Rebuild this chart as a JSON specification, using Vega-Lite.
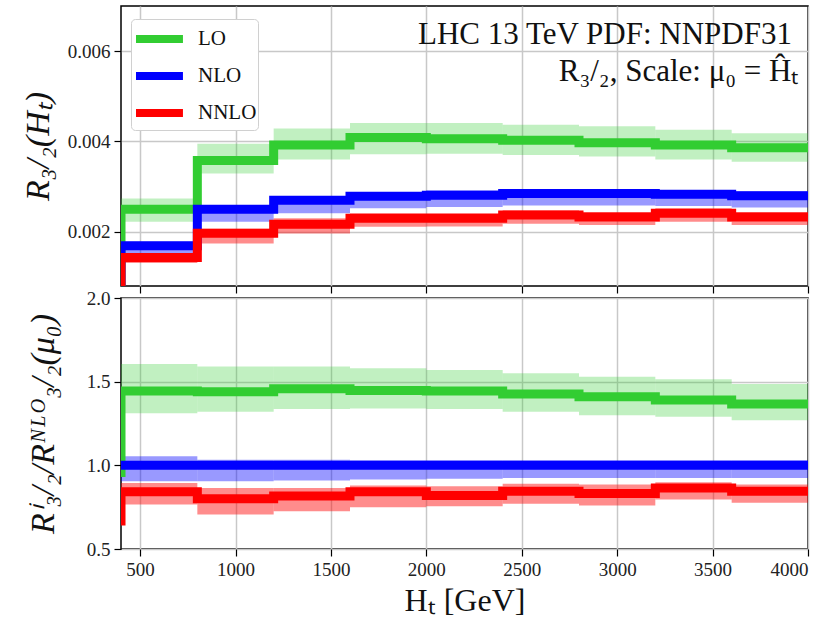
{
  "$schema": "https://vega.github.io/schema/vega-lite/v6.json",
  "padding": {"left": 20, "top": 5, "right": 20, "bottom": 5},
  "config": {
    "font": "Liberation Serif",
    "view": {"stroke": "#000", "strokeWidth": 1.5},
    "axis": {
      "domain": false, "grid": true, "gridColor": "#c8c8c8", "gridWidth": 1.5,
      "tickColor": "#000", "tickSize": 7, "tickWidth": 1.2,
      "labelFont": "Liberation Serif", "labelFontSize": 19, "labelColor": "#222", "labelPadding": 4,
      "titleFont": "Liberation Serif", "titleFontWeight": "normal", "titleFontSize": 28, "titleColor": "#111"
    },
    "concat": {"spacing": -7}
  },
  "datasets": {
    "top": [
      {"s": "LO", "x0": 400, "x1": 400, "v": 0.0005},
      {"s": "LO", "x0": 400, "x1": 800, "v": 0.0025, "lo": 0.00222, "hi": 0.00274},
      {"s": "LO", "x0": 800, "x1": 1200, "v": 0.00358, "lo": 0.00329, "hi": 0.00395},
      {"s": "LO", "x0": 1200, "x1": 1600, "v": 0.00392, "lo": 0.0036, "hi": 0.00429},
      {"s": "LO", "x0": 1600, "x1": 2000, "v": 0.00409, "lo": 0.00372, "hi": 0.00441},
      {"s": "LO", "x0": 2000, "x1": 2400, "v": 0.00406, "lo": 0.00373, "hi": 0.00441},
      {"s": "LO", "x0": 2400, "x1": 2800, "v": 0.00403, "lo": 0.0037, "hi": 0.00437},
      {"s": "LO", "x0": 2800, "x1": 3200, "v": 0.00397, "lo": 0.00367, "hi": 0.00434},
      {"s": "LO", "x0": 3200, "x1": 3600, "v": 0.00392, "lo": 0.0036, "hi": 0.00426},
      {"s": "LO", "x0": 3600, "x1": 4000, "v": 0.00386, "lo": 0.00355, "hi": 0.00418},
      {"s": "NLO", "x0": 400, "x1": 400, "v": 0.0005},
      {"s": "NLO", "x0": 400, "x1": 800, "v": 0.00169, "lo": 0.00152, "hi": 0.00178},
      {"s": "NLO", "x0": 800, "x1": 1200, "v": 0.0025, "lo": 0.00222, "hi": 0.00259},
      {"s": "NLO", "x0": 1200, "x1": 1600, "v": 0.0027, "lo": 0.00241, "hi": 0.00279},
      {"s": "NLO", "x0": 1600, "x1": 2000, "v": 0.00279, "lo": 0.00252, "hi": 0.00288},
      {"s": "NLO", "x0": 2000, "x1": 2400, "v": 0.00281, "lo": 0.00255, "hi": 0.00292},
      {"s": "NLO", "x0": 2400, "x1": 2800, "v": 0.00285, "lo": 0.00258, "hi": 0.00294},
      {"s": "NLO", "x0": 2800, "x1": 3200, "v": 0.00285, "lo": 0.00258, "hi": 0.00294},
      {"s": "NLO", "x0": 3200, "x1": 3600, "v": 0.00283, "lo": 0.00257, "hi": 0.00292},
      {"s": "NLO", "x0": 3600, "x1": 4000, "v": 0.0028, "lo": 0.00254, "hi": 0.0029},
      {"s": "NNLO", "x0": 400, "x1": 400, "v": 0.0005},
      {"s": "NNLO", "x0": 400, "x1": 800, "v": 0.00143, "lo": 0.00131, "hi": 0.00152},
      {"s": "NNLO", "x0": 800, "x1": 1200, "v": 0.00197, "lo": 0.00174, "hi": 0.00207},
      {"s": "NNLO", "x0": 1200, "x1": 1600, "v": 0.00217, "lo": 0.00196, "hi": 0.0023},
      {"s": "NNLO", "x0": 1600, "x1": 2000, "v": 0.0023, "lo": 0.00211, "hi": 0.00241},
      {"s": "NNLO", "x0": 2000, "x1": 2400, "v": 0.0023, "lo": 0.00212, "hi": 0.00241},
      {"s": "NNLO", "x0": 2400, "x1": 2800, "v": 0.00237, "lo": 0.00218, "hi": 0.00248},
      {"s": "NNLO", "x0": 2800, "x1": 3200, "v": 0.00233, "lo": 0.00215, "hi": 0.00244},
      {"s": "NNLO", "x0": 3200, "x1": 3600, "v": 0.00241, "lo": 0.00222, "hi": 0.00252},
      {"s": "NNLO", "x0": 3600, "x1": 4000, "v": 0.00233, "lo": 0.00215, "hi": 0.00244}
    ],
    "ratio": [
      {"s": "LO", "x0": 400, "x1": 400, "v": 0.93},
      {"s": "LO", "x0": 400, "x1": 800, "v": 1.444, "lo": 1.312, "hi": 1.605},
      {"s": "LO", "x0": 800, "x1": 1200, "v": 1.44, "lo": 1.32, "hi": 1.59},
      {"s": "LO", "x0": 1200, "x1": 1600, "v": 1.457, "lo": 1.336, "hi": 1.59},
      {"s": "LO", "x0": 1600, "x1": 2000, "v": 1.447, "lo": 1.34, "hi": 1.58},
      {"s": "LO", "x0": 2000, "x1": 2400, "v": 1.444, "lo": 1.337, "hi": 1.57},
      {"s": "LO", "x0": 2400, "x1": 2800, "v": 1.427, "lo": 1.32, "hi": 1.55},
      {"s": "LO", "x0": 2800, "x1": 3200, "v": 1.41, "lo": 1.3, "hi": 1.53},
      {"s": "LO", "x0": 3200, "x1": 3600, "v": 1.39, "lo": 1.29, "hi": 1.514},
      {"s": "LO", "x0": 3600, "x1": 4000, "v": 1.367, "lo": 1.27, "hi": 1.486},
      {"s": "NLO", "x0": 400, "x1": 400, "v": 1.0},
      {"s": "NLO", "x0": 400, "x1": 800, "v": 1.0, "lo": 0.905, "hi": 1.054},
      {"s": "NLO", "x0": 800, "x1": 1200, "v": 1.0, "lo": 0.905, "hi": 1.034},
      {"s": "NLO", "x0": 1200, "x1": 1600, "v": 1.0, "lo": 0.91, "hi": 1.034},
      {"s": "NLO", "x0": 1600, "x1": 2000, "v": 1.0, "lo": 0.915, "hi": 1.03},
      {"s": "NLO", "x0": 2000, "x1": 2400, "v": 1.0, "lo": 0.92, "hi": 1.03},
      {"s": "NLO", "x0": 2400, "x1": 2800, "v": 1.0, "lo": 0.925, "hi": 1.03},
      {"s": "NLO", "x0": 2800, "x1": 3200, "v": 1.0, "lo": 0.925, "hi": 1.03},
      {"s": "NLO", "x0": 3200, "x1": 3600, "v": 1.0, "lo": 0.925, "hi": 1.03},
      {"s": "NLO", "x0": 3600, "x1": 4000, "v": 1.0, "lo": 0.925, "hi": 1.03},
      {"s": "NNLO", "x0": 400, "x1": 400, "v": 0.64},
      {"s": "NNLO", "x0": 400, "x1": 800, "v": 0.842, "lo": 0.766, "hi": 0.895},
      {"s": "NNLO", "x0": 800, "x1": 1200, "v": 0.8, "lo": 0.706, "hi": 0.865},
      {"s": "NNLO", "x0": 1200, "x1": 1600, "v": 0.816, "lo": 0.726, "hi": 0.865},
      {"s": "NNLO", "x0": 1600, "x1": 2000, "v": 0.842, "lo": 0.75, "hi": 0.88},
      {"s": "NNLO", "x0": 2000, "x1": 2400, "v": 0.82, "lo": 0.756, "hi": 0.875},
      {"s": "NNLO", "x0": 2400, "x1": 2800, "v": 0.845, "lo": 0.77, "hi": 0.89},
      {"s": "NNLO", "x0": 2800, "x1": 3200, "v": 0.832, "lo": 0.76, "hi": 0.885},
      {"s": "NNLO", "x0": 3200, "x1": 3600, "v": 0.865, "lo": 0.796, "hi": 0.899},
      {"s": "NNLO", "x0": 3600, "x1": 4000, "v": 0.845, "lo": 0.776, "hi": 0.885}
    ],
    "notes": [
      {"x": 3916, "y": 0.00615, "t": "LHC 13 TeV PDF: NNPDF31"},
      {"x": 3950, "y": 0.00535, "t": "R₃/₂, Scale:  μ₀ = Ĥₜ"}
    ]
  },
  "vconcat": [
    {
      "width": 687,
      "height": 280,
      "encoding": {
        "x": {"type": "quantitative", "scale": {"domain": [400, 4000], "nice": false, "zero": false},
              "axis": {"values": [500, 1000, 1500, 2000, 2500, 3000, 3500, 4000], "labels": false, "title": null}},
        "y": {"type": "quantitative", "scale": {"domain": [0.0008, 0.007], "nice": false, "zero": false},
              "axis": {"values": [0.002, 0.004, 0.006], "format": ".3f", "title": "R₃/₂(Hₜ)", "titleFontStyle": "italic", "titleFontSize": 34, "titlePadding": 12}}
      },
      "layer": [
        {
          "data": {"name": "top"},
          "transform": [{"filter": {"field": "s", "equal": "LO"}}, {"filter": {"field": "lo", "valid": true}}],
          "mark": {"type": "rect", "clip": true, "color": "#32cd32", "opacity": 0.3},
          "encoding": {"x": {"field": "x0"}, "x2": {"field": "x1"}, "y": {"field": "lo"}, "y2": {"field": "hi"}}
        },
        {
          "data": {"name": "top"},
          "transform": [{"filter": {"field": "s", "equal": "NLO"}}, {"filter": {"field": "lo", "valid": true}}],
          "mark": {"type": "rect", "clip": true, "color": "#0000ff", "opacity": 0.4},
          "encoding": {"x": {"field": "x0"}, "x2": {"field": "x1"}, "y": {"field": "lo"}, "y2": {"field": "hi"}}
        },
        {
          "data": {"name": "top"},
          "transform": [{"filter": {"field": "s", "equal": "NNLO"}}, {"filter": {"field": "lo", "valid": true}}],
          "mark": {"type": "rect", "clip": true, "color": "#ff0000", "opacity": 0.45},
          "encoding": {"x": {"field": "x0"}, "x2": {"field": "x1"}, "y": {"field": "lo"}, "y2": {"field": "hi"}}
        },
        {
          "data": {"name": "top"},
          "transform": [{"fold": ["x0", "x1"]}],
          "mark": {"type": "line", "strokeWidth": 9, "strokeJoin": "miter", "strokeCap": "butt", "clip": true},
          "encoding": {
            "x": {"field": "value"},
            "y": {"field": "v"},
            "order": [{"field": "value", "type": "quantitative"}, {"field": "key", "type": "nominal", "sort": "descending"}, {"field": "v", "type": "quantitative"}],
            "color": {"field": "s", "type": "nominal", "scale": {"domain": ["LO", "NLO", "NNLO"], "range": ["#32cd32", "#0000ff", "#ff0000"]},
              "legend": {"title": null, "orient": "none", "legendX": 10, "legendY": 13, "symbolType": "M-1,0H2.13", "symbolStrokeWidth": 8, "symbolSize": 900,
                "labelFontSize": 21, "labelFont": "Liberation Serif", "labelColor": "#111", "labelOffset": 28, "fillColor": "white", "strokeColor": "#d0d0d0",
                "cornerRadius": 4, "padding": 1, "rowPadding": 2}}
          }
        },
        {
          "data": {"name": "notes"},
          "mark": {"type": "text", "align": "right", "baseline": "alphabetic", "fontSize": 31, "font": "Liberation Serif", "color": "#111"},
          "encoding": {
            "x": {"field": "x"},
            "y": {"field": "y"},
            "text": {"field": "t"}
          }
        }
      ]
    },
    {
      "width": 687,
      "height": 251,
      "encoding": {
        "x": {"type": "quantitative", "scale": {"domain": [400, 4000], "nice": false, "zero": false},
              "axis": {"values": [500, 1000, 1500, 2000, 2500, 3000, 3500, 4000], "format": "d", "title": "Hₜ [GeV]", "titleFontSize": 32, "titlePadding": 6}},
        "y": {"type": "quantitative", "scale": {"domain": [0.5, 2.0], "nice": false, "zero": false},
              "axis": {"values": [0.5, 1.0, 1.5, 2.0], "format": ".1f", "title": "Rⁱ₃/₂/Rᴺᴸᴼ₃/₂(μ₀)", "titleFontStyle": "italic", "titleFontSize": 34, "titlePadding": 26}}
      },
      "layer": [
        {
          "data": {"name": "ratio"},
          "transform": [{"filter": {"field": "s", "equal": "LO"}}, {"filter": {"field": "lo", "valid": true}}],
          "mark": {"type": "rect", "clip": true, "color": "#32cd32", "opacity": 0.3},
          "encoding": {"x": {"field": "x0"}, "x2": {"field": "x1"}, "y": {"field": "lo"}, "y2": {"field": "hi"}}
        },
        {
          "data": {"name": "ratio"},
          "transform": [{"filter": {"field": "s", "equal": "NLO"}}, {"filter": {"field": "lo", "valid": true}}],
          "mark": {"type": "rect", "clip": true, "color": "#0000ff", "opacity": 0.4},
          "encoding": {"x": {"field": "x0"}, "x2": {"field": "x1"}, "y": {"field": "lo"}, "y2": {"field": "hi"}}
        },
        {
          "data": {"name": "ratio"},
          "transform": [{"filter": {"field": "s", "equal": "NNLO"}}, {"filter": {"field": "lo", "valid": true}}],
          "mark": {"type": "rect", "clip": true, "color": "#ff0000", "opacity": 0.45},
          "encoding": {"x": {"field": "x0"}, "x2": {"field": "x1"}, "y": {"field": "lo"}, "y2": {"field": "hi"}}
        },
        {
          "data": {"name": "ratio"},
          "transform": [{"fold": ["x0", "x1"]}],
          "mark": {"type": "line", "strokeWidth": 9, "strokeJoin": "miter", "strokeCap": "butt", "clip": true},
          "encoding": {
            "x": {"field": "value"},
            "y": {"field": "v"},
            "order": [{"field": "value", "type": "quantitative"}, {"field": "key", "type": "nominal", "sort": "descending"}, {"field": "v", "type": "quantitative"}],
            "color": {"field": "s", "type": "nominal", "scale": {"domain": ["LO", "NLO", "NNLO"], "range": ["#32cd32", "#0000ff", "#ff0000"]}, "legend": null}
          }
        }
      ]
    }
  ]
}
